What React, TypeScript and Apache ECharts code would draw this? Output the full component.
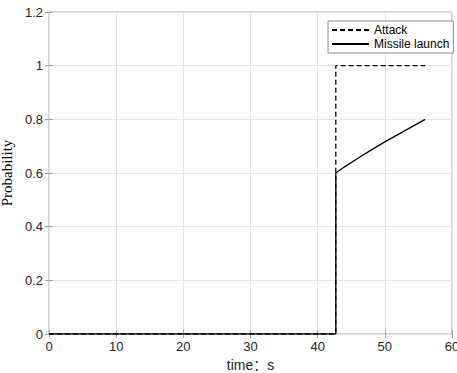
import React, { useEffect, useRef } from "react";
import * as echarts from "echarts";

const xTicks = [0, 10, 20, 30, 40, 50, 60];
const yTicks = [0, 0.2, 0.4, 0.6, 0.8, 1, 1.2];
const attackX = [0, 42.7, 42.7, 56];
const attackY = [0, 0, 1, 1];
const launchX = [0, 42.7, 42.7, 44, 46, 48, 50, 52, 54, 56];
const launchY = [0, 0, 0.6, 0.623, 0.655, 0.686, 0.716, 0.744, 0.772, 0.8];
const seriesNames = ["Attack", "Missile launch"];

export default function App() {
  const ref = useRef<HTMLDivElement>(null);
  useEffect(() => {
    document.body.style.margin = "0";
    const chart = echarts.init(ref.current!, null, { renderer: "svg" });
    const tickFont = { fontFamily: "Liberation Sans, Arial, sans-serif", fontSize: 13, color: "#262626" };
    const axisCommon = {
      min: 0,
      axisLine: { show: false },
      splitLine: { show: true, lineStyle: { color: "#e5e5e5", width: 1 } },
      axisTick: { show: true, inside: true, length: 4, lineStyle: { color: "#a0a0a0" } },
    };
    chart.setOption({
      animation: false,
      backgroundColor: "#ffffff",
      grid: {
        left: 49, top: 12, right: 5, bottom: 39,
        containLabel: false,
        outerBoundsMode: "none",
        show: true, borderColor: "#a6a6a6", borderWidth: 1, backgroundColor: "#fff",
      },
      legend: {
        data: seriesNames,
        orient: "vertical",
        left: 328,
        top: 21,
        padding: [3, 4, 3, 3],
        itemGap: 2,
        itemWidth: 37,
        itemHeight: 14,
        borderColor: "#8c8c8c",
        borderWidth: 1,
        backgroundColor: "#ffffff",
        itemStyle: { opacity: 0 },
        textStyle: { fontFamily: "Liberation Sans, Arial, sans-serif", fontSize: 12, color: "#000" },
      },
      xAxis: [
        {
          ...axisCommon,
          type: "value",
          max: 60,
          interval: 10,
          name: "time：s",
          nameLocation: "middle",
          nameGap: 21,
          nameTextStyle: { fontFamily: "Liberation Sans, Arial, Noto Sans CJK SC, sans-serif", fontSize: 14, color: "#262626" },
          axisLabel: { ...tickFont, margin: 6, formatter: (v: number) => (xTicks.includes(v) ? String(v) : "") },
        },
        {
          ...axisCommon,
          type: "value",
          position: "top",
          max: 60,
          interval: 10,
          splitLine: { show: false },
          axisLabel: { show: false },
        },
      ],
      yAxis: [
        {
          ...axisCommon,
          type: "value",
          max: 1.2,
          interval: 0.2,
          name: "Probability",
          nameLocation: "middle",
          nameGap: 26,
          nameTextStyle: { fontFamily: "Liberation Serif, Times New Roman, serif", fontSize: 15, color: "#000" },
          axisLabel: {
            ...tickFont,
            margin: 6,
            formatter: (v: number) => {
              const r = Math.round(v * 10) / 10;
              return yTicks.includes(r) ? String(r) : "";
            },
          },
        },
        {
          ...axisCommon,
          type: "value",
          position: "right",
          max: 1.2,
          interval: 0.2,
          splitLine: { show: false },
          axisLabel: { show: false },
        },
      ],
      series: [
        {
          name: seriesNames[0],
          type: "line",
          symbol: "none",
          data: attackX.map((x, i) => [x, attackY[i]]),
          lineStyle: { color: "#000", width: 1.3, type: [5, 3] },
          itemStyle: { color: "#000" },
          z: 3,
        },
        {
          name: seriesNames[1],
          type: "line",
          symbol: "none",
          data: launchX.map((x, i) => [x, launchY[i]]),
          lineStyle: { color: "#000", width: 1.3, type: "solid" },
          itemStyle: { color: "#000" },
          z: 4,
        },
      ],
    });
    return () => chart.dispose();
  }, []);
  return <div ref={ref} style={{ width: 457, height: 373 }} />;
}
